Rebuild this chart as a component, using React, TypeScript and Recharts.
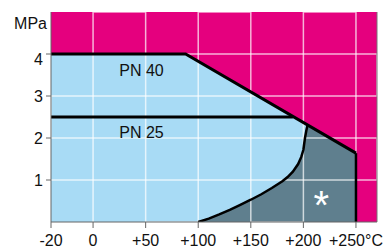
import {
	Area,
	CartesianGrid,
	ComposedChart,
	Line,
	ReferenceDot,
	ReferenceLine,
	XAxis,
	YAxis,
} from 'recharts';

// temperature in °C, pressure in MPa
const tempTicks = [-20, 0, 50, 100, 150, 200, 250];
const tempTickLabels = ['-20', '0', '+50', '+100', '+150', '+200', '+250°C'];
const pressureTicks = [1, 2, 3, 4];
const tempMax = 270;
const pressureMax = 5;

const pn40Temp = [-20, 88, 250];
const pn40Pressure = [4, 4, 1.64];

const pn25Temp = [-20, 190];
const pn25Pressure = [2.5, 2.5];

const curveTemp = [100, 110, 120, 130, 140, 150, 160, 170, 180, 185, 190, 195, 198, 200, 201.5, 203, 204];
const curvePressure = [0, 0.08, 0.18, 0.29, 0.41, 0.53, 0.66, 0.81, 0.97, 1.07, 1.2, 1.38, 1.55, 1.72, 2.0, 2.2, 2.31];

const limitTemp = [250, 250];
const limitPressure = [1.64, 0];

const MAGENTA = '#E5007E';
const LIGHT_BLUE = '#A8DBF5';
const DARK = '#5F7F8E';
const FONT = 16;

// the -20..0 interval is drawn twice as wide as the rest of the scale
const pos = (t: number) => (t < 0 ? t * 2 : t);

const toPoints = (ts: number[], ps: number[]) =>
	ts.map((t, i) => ({ x: pos(t), y: ps[i] }));

const pn40 = toPoints(pn40Temp, pn40Pressure);
const pn25 = toPoints(pn25Temp, pn25Pressure);
const curve = toPoints(curveTemp, curvePressure);
const limit = toPoints(limitTemp, limitPressure);

// light blue: under PN 40 up to where the curve meets it
const lightArea = [pn40[0], pn40[1], curve[curve.length - 1]];
// dark: under the curve, then under PN 40 slope up to 250°C
const darkArea = [...curve, pn40[2]];

const xTicks = tempTicks.map(pos);
const formatTemp = (v: number) => tempTickLabels[xTicks.indexOf(v)] ?? '';

// grid drawn over the coloured regions as one serpentine path each,
// the joins run along the plot edges
const vGrid = xTicks.slice(1).flatMap((v, i) =>
	i % 2 === 0
		? [{ x: v, y: 0 }, { x: v, y: pressureMax }]
		: [{ x: v, y: pressureMax }, { x: v, y: 0 }],
);
const hGrid = pressureTicks.flatMap((v, i) =>
	i % 2 === 0
		? [{ x: xTicks[0], y: v }, { x: tempMax, y: v }]
		: [{ x: tempMax, y: v }, { x: xTicks[0], y: v }],
);

const YTick = (props: any) => {
	const { x, y, payload } = props;
	// the "4" sits a little low, under the MPa caption
	const shift = payload.value === 4 ? 5 : 0;
	return (
		<text x={x} y={y + shift} dy='0.355em' textAnchor='end' fill='#111' fontSize={FONT}>
			{payload.value}
		</text>
	);
};

export default function App() {
	return (
		<div style={{ position: 'absolute', left: 0, top: 0, fontFamily: '"Liberation Sans", Arial, sans-serif' }}>
			<ComposedChart
				width={392}
				height={250}
				margin={{ top: 12, right: 15, bottom: 0, left: 0 }}
			>
				<CartesianGrid fill={MAGENTA} fillOpacity={1} stroke='none' horizontal={false} vertical={false} />
				<XAxis
					dataKey='x'
					type='number'
					domain={[xTicks[0], tempMax]}
					ticks={xTicks}
					tickFormatter={formatTemp}
					allowDataOverflow
					height={28}
					tickSize={6}
					tickMargin={7}
					stroke='#666'
					tick={{ fill: '#111', fontSize: FONT }}
				/>
				<YAxis
					dataKey='y'
					type='number'
					domain={[0, pressureMax]}
					ticks={pressureTicks}
					allowDataOverflow
					width={51}
					tickSize={5}
					tickMargin={3}
					stroke='#666'
					tick={YTick}
					label={{
						content: (p: any) => (
							<text
								x={p.viewBox.x + p.viewBox.width - 4}
								y={p.viewBox.y + 17}
								textAnchor='end'
								fill='#111'
								fontSize={FONT}
							>
								MPa
							</text>
						),
					}}
				/>
				<Area
					data={lightArea}
					dataKey='y'
					type='linear'
					fill={LIGHT_BLUE}
					fillOpacity={1}
					stroke='none'
					isAnimationActive={false}
				/>
				<Area
					data={darkArea}
					dataKey='y'
					type='linear'
					fill={DARK}
					fillOpacity={1}
					stroke='none'
					isAnimationActive={false}
				/>
				<Line
					data={vGrid}
					dataKey='y'
					type='linear'
					stroke='#ffffff'
					strokeOpacity={0.7}
					strokeWidth={1.5}
					dot={false}
					activeDot={false}
					isAnimationActive={false}
				/>
				<Line
					data={hGrid}
					dataKey='y'
					type='linear'
					stroke='#ffffff'
					strokeOpacity={0.7}
					strokeWidth={1.5}
					dot={false}
					activeDot={false}
					isAnimationActive={false}
				/>
				<ReferenceLine x={tempMax} stroke='#777' strokeWidth={1} />
				<Line
					data={pn40}
					dataKey='y'
					type='linear'
					stroke='#000'
					strokeWidth={3}
					dot={false}
					isAnimationActive={false}
				/>
				<Line
					data={pn25}
					dataKey='y'
					type='linear'
					stroke='#000'
					strokeWidth={3}
					dot={false}
					isAnimationActive={false}
				/>
				<Line
					data={curve}
					dataKey='y'
					type='linear'
					stroke='#000'
					strokeWidth={2.5}
					dot={false}
					isAnimationActive={false}
				/>
				<Line
					data={limit}
					dataKey='y'
					type='linear'
					stroke='#000'
					strokeWidth={2.5}
					dot={false}
					isAnimationActive={false}
				/>
				<ReferenceDot
					x={pos(46)}
					y={3.62}
					r={0}
					stroke='none'
					label={{ value: 'PN 40', position: 'center', fill: '#111', fontSize: FONT }}
				/>
				<ReferenceDot
					x={pos(46)}
					y={2.14}
					r={0}
					stroke='none'
					label={{ value: 'PN 25', position: 'center', fill: '#111', fontSize: FONT }}
				/>
				<ReferenceDot
					x={pos(217)}
					y={0.62}
					r={0}
					stroke='none'
					label={{
						content: (p: any) => (
							<text
								x={p.viewBox.x}
								y={p.viewBox.y + 23}
								textAnchor='middle'
								fill='#fff'
								fontSize={40}
							>
								*
							</text>
						),
					}}
				/>
			</ComposedChart>
		</div>
	);
}
